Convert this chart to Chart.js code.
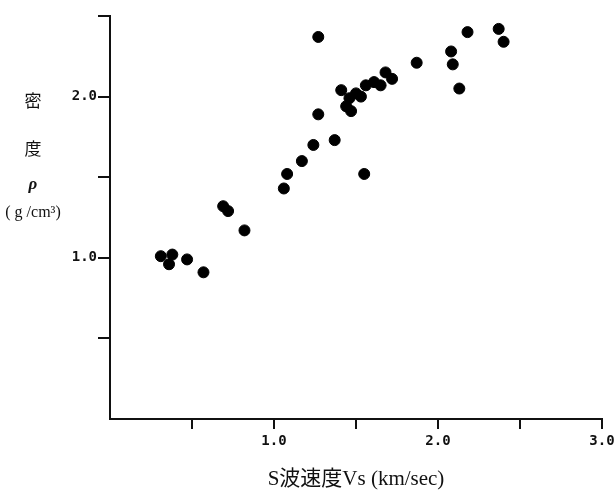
<!DOCTYPE html>
<html>
<head>
<meta charset="utf-8">
<script src="https://cdn.jsdelivr.net/npm/chart.js@4"></script>
<style>
  html, body { margin: 0; padding: 0; background: #fff; }
  #wrap { width: 614px; height: 496px; }
</style>
</head>
<body>
<div id="wrap"><canvas id="vsChart" width="614" height="496"></canvas></div>
<script>
// S波速度 (km/sec) と 密度 (g/cm3)
const vsValues = [
    0.31, 0.38, 0.36, 0.47, 0.57,
    0.69, 0.72, 0.82,
    1.06, 1.08, 1.17, 1.24, 1.27, 1.27, 1.37,
    1.41, 1.44, 1.46, 1.47, 1.50, 1.53, 1.55, 1.56, 1.61, 1.65, 1.68, 1.72,
    1.87, 2.08, 2.09, 2.13, 2.18, 2.37, 2.40
];
const densityValues = [
    1.01, 1.02, 0.96, 0.99, 0.91,
    1.32, 1.29, 1.17,
    1.43, 1.52, 1.60, 1.70, 1.89, 2.37, 1.73,
    2.04, 1.94, 1.99, 1.91, 2.02, 2.00, 1.52, 2.07, 2.09, 2.07, 2.15, 2.11,
    2.21, 2.28, 2.20, 2.05, 2.40, 2.42, 2.34
];
const xTickValues = [0.5, 1.0, 1.5, 2.0, 2.5, 3.0];
const xTickLabels = ['', '1.0', '', '2.0', '', '3.0'];
const yTickValues = [0.5, 1.0, 1.5, 2.0, 2.5];
const yTickLabels = ['', '1.0', '', '2.0', ''];
const xTitle = 'S波速度Vs (km/sec)';
const yTitleLines = ['密', '度', 'ρ', '( g /cm³)'];

const points = vsValues.map((v, i) => ({ x: v, y: densityValues[i] }));
const serif = '"Liberation Serif", "Noto Sans CJK JP", serif';
const mono = '"DejaVu Sans Mono", "Liberation Mono", monospace';

// 縦書き風の縦軸タイトル
const yTitlePlugin = {
    id: 'yTitle',
    afterDraw(chart) {
        const ctx = chart.ctx;
        const rows = [101, 149, 185, 213];
        ctx.save();
        ctx.fillStyle = '#111';
        ctx.textAlign = 'center';
        ctx.textBaseline = 'middle';
        yTitleLines.forEach((t, i) => {
            if (i === 2) ctx.font = 'italic bold 17px ' + serif;
            else if (i === 3) ctx.font = '16px ' + serif;
            else ctx.font = '17px "Noto Sans CJK JP", sans-serif';
            ctx.fillText(t, 33, rows[i]);
        });
        ctx.restore();
    }
};

new Chart(document.getElementById('vsChart'), {
    type: 'scatter',
    data: {
        datasets: [{
            data: points,
            backgroundColor: '#000',
            borderColor: '#000',
            pointRadius: 5.5,
            pointHoverRadius: 5.5
        }]
    },
    options: {
        responsive: false,
        animation: false,
        events: [],
        layout: { padding: { top: 16, right: 12, left: 0, bottom: 0 } },
        plugins: { legend: { display: false }, tooltip: { enabled: false } },
        scales: {
            x: {
                type: 'linear',
                min: 0,
                max: 3.0,
                afterBuildTicks: s => { s.ticks = xTickValues.map(v => ({ value: v })); },
                afterFit: s => { s.height = 77; s.paddingRight = 0; s.paddingLeft = 0; },
                ticks: {
                    color: '#111',
                    font: { family: mono, size: 14, weight: 'bold' },
                    padding: 4,
                    maxRotation: 0,
                    autoSkip: false,
                    callback: (v) => xTickLabels[xTickValues.indexOf(v)] ?? ''
                },
                grid: { drawOnChartArea: false, drawTicks: true, tickLength: 10, color: '#111', lineWidth: 2 },
                border: { display: true, color: '#111', width: 2 },
                title: {
                    display: true,
                    text: xTitle,
                    color: '#111',
                    font: { family: serif, size: 21 },
                    padding: { top: 17 }
                }
            },
            y: {
                type: 'linear',
                min: 0,
                max: 2.5,
                afterBuildTicks: s => { s.ticks = yTickValues.map(v => ({ value: v })); },
                afterFit: s => { s.width = 110; s.paddingTop = 0; s.paddingBottom = 0; },
                ticks: {
                    color: '#111',
                    font: { family: mono, size: 14, weight: 'bold' },
                    padding: 1,
                    autoSkip: false,
                    callback: (v) => yTickLabels[yTickValues.indexOf(v)] ?? ''
                },
                grid: { drawOnChartArea: false, drawTicks: true, tickLength: 12, color: '#111', lineWidth: 2 },
                border: { display: true, color: '#111', width: 2 }
            }
        }
    },
    plugins: [yTitlePlugin]
});
</script>
</body>
</html>
